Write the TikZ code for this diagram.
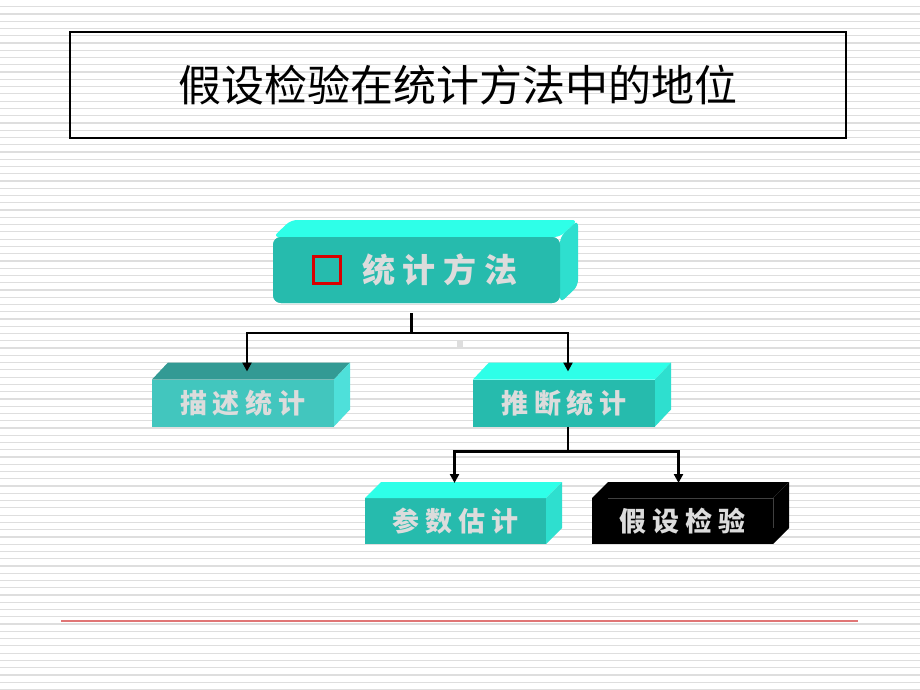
\documentclass[tikz,border=0pt]{standalone}
\usepackage{fontspec}
\newfontfamily\cjk{Noto Sans CJK SC}
\usetikzlibrary{calc,arrows.meta}
\definecolor{bgl}{HTML}{DEDEDE}
\definecolor{tfront}{HTML}{26BBAD}
\definecolor{ttop}{HTML}{2EFFE8}
\definecolor{tside}{HTML}{2EDFCF}
\definecolor{mfront}{HTML}{42C6BE}
\definecolor{mtop}{HTML}{339A94}
\definecolor{mside}{HTML}{4EE0DA}
\definecolor{txt}{HTML}{DCDCDC}
\definecolor{redline}{HTML}{E07575}
\newcommand\kgap{\hspace{6pt}}
\newcommand\kgapb{\hspace{8pt}}
\tikzset{
  bgline/.style={draw=bgl, line width=1.2pt},
  frontbox/.style={rectangle, outer sep=0pt, inner sep=0pt, text=txt,
     font=\cjk\bfseries\fontsize{27}{27}\selectfont},
  conn/.style={draw=black, line width=2.3pt},
  arr/.style={conn, -{Triangle[length=9pt,width=9pt]}},
}
\begin{document}
\begin{tikzpicture}[x=1pt,y=-1pt]
\useasboundingbox (0,0) rectangle (920,690);
\fill[white] (0,0) rectangle (920,690);
\foreach \k in {0,...,94} \draw[bgline] (0,{6.7+\k*7.263}) -- (920,{6.7+\k*7.263});

% title
\node[draw=black, line width=1.3pt, minimum width=776pt, minimum height=106pt,
      font=\cjk\fontsize{43}{43}\selectfont] (title) at (458,85) {假设检验在统计方法中的地位};

% top box
\node[frontbox, fill=tfront, rounded corners=8pt, minimum width=287pt, minimum height=66pt] (top) at (416.5,270) {};
\fill[ttop, rounded corners=6pt] (top.north west) -- ++(18,-17) -- ($(top.north east)+(18,-17)$) -- (top.north east) -- cycle;
\fill[tside, rounded corners=6pt] (top.north east) -- ++(18,-17) -- ($(top.south east)+(18,-17)$) -- (top.south east) -- cycle;
\fill[tfront, rounded corners=8pt] (top.north west) rectangle (top.south east);
\node[draw=red!85!black, line width=3pt, fill=tfront, minimum size=27pt, inner sep=0pt] (sq) at (327,270) {};
\node[frontbox, font=\cjk\bfseries\fontsize{33}{33}\selectfont] (toptxt) at (440,270) {统\kgapb 计\kgapb 方\kgapb 法};

% level 2
\node[frontbox, fill=mfront, minimum width=182pt, minimum height=47pt] (ms) at (243,403) {};
\fill[mtop] (ms.north west) -- ++(16,-17) -- ($(ms.north east)+(16,-17)$) -- (ms.north east) -- cycle;
\fill[mside] (ms.north east) -- ++(16,-17) -- ($(ms.south east)+(16,-17)$) -- (ms.south east) -- cycle;
\node[frontbox] at (ms.center) {描\kgap 述\kgap 统\kgap 计};

\node[frontbox, fill=tfront, minimum width=182pt, minimum height=47pt] (tj) at (564,403) {};
\fill[ttop] (tj.north west) -- ++(16,-17) -- ($(tj.north east)+(16,-17)$) -- (tj.north east) -- cycle;
\fill[tside] (tj.north east) -- ++(16,-17) -- ($(tj.south east)+(16,-17)$) -- (tj.south east) -- cycle;
\node[frontbox] at (tj.center) {推\kgap 断\kgap 统\kgap 计};

% level 3
\node[frontbox, fill=tfront, minimum width=181pt, minimum height=46pt] (cs) at (455.5,521) {};
\fill[ttop] (cs.north west) -- ++(16,-16) -- ($(cs.north east)+(16,-16)$) -- (cs.north east) -- cycle;
\fill[tside] (cs.north east) -- ++(16,-16) -- ($(cs.south east)+(16,-16)$) -- (cs.south east) -- cycle;
\node[frontbox] at (cs.center) {参\kgap 数\kgap 估\kgap 计};

\node[frontbox, fill=black, minimum width=181pt, minimum height=46pt] (jy) at (682.5,521) {};
\fill[black] (jy.north west) -- ++(16,-16) -- ($(jy.north east)+(16,-16)$) -- (jy.north east) -- cycle;
\fill[black] (jy.north east) -- ++(16,-16) -- ($(jy.south east)+(16,-16)$) -- (jy.south east) -- cycle;
\draw[black!75, line width=0.8pt] ($(jy.north west)+(16,0)$) -- (jy.north east) -- ++(0,30);
\node[frontbox] at (jy.center) {假\kgap 设\kgap 检\kgap 验};

% small grey mark
\fill[bgl] (457,341) rectangle (463,347);

% connectors
\coordinate (j1) at ($(top.south)+(-5,30)$);
\draw[conn] ($(top.south)+(-5,10)$) -- (j1);
\draw[arr] (j1) -| ($(ms.north)+(4,-8)$);
\draw[arr] (j1) -| ($(tj.north)+(4,-8)$);
\coordinate (j2) at ($(tj.south)+(4,25)$);
\draw[conn] ($(tj.south)+(4,0)$) -- (j2);
\draw[arr] (j2) -| ($(cs.north)+(-1,-15)$);
\draw[arr] (j2) -| ($(jy.north)+(-4,-15)$);

% bottom red line
\draw[redline, line width=2pt] (61,621) -- (858,621);
\end{tikzpicture}
\end{document}
